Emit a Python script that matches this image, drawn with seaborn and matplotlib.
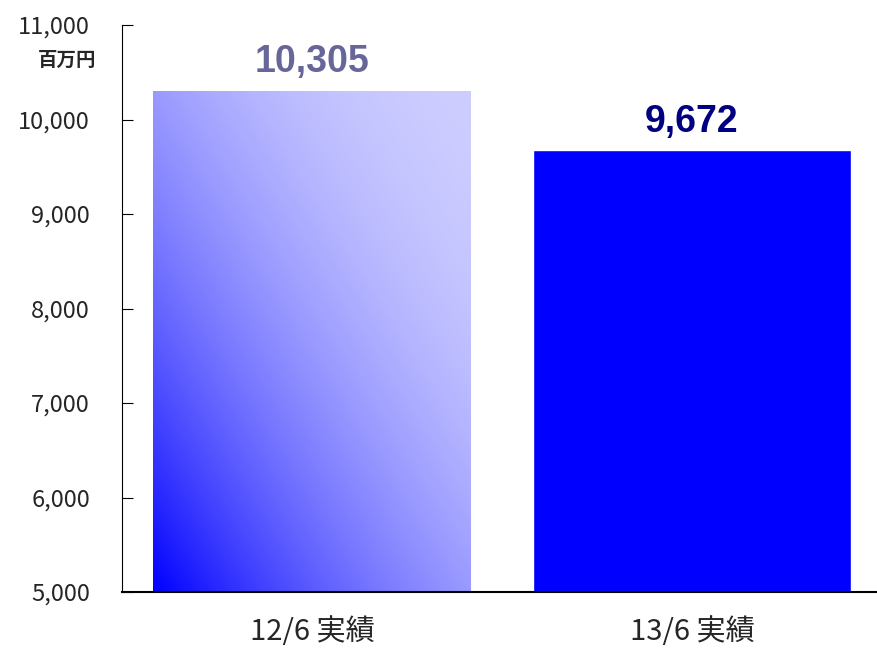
import numpy as np
import pandas as pd
import matplotlib
matplotlib.use('Agg')
import matplotlib.pyplot as plt
import seaborn as sns
from matplotlib.colors import LinearSegmentedColormap

categories = ['12/6 実績', '13/6 実績']
values = [10305, 9672]
value_labels = ['10,305', '9,672']
label_colors = ['#666699', '#000080']

sns.set_style('white')
plt.rcParams['font.family'] = ['Noto Sans CJK JP', 'DejaVu Sans']

df = pd.DataFrame({'period': categories, 'value': values})

fig = plt.figure(figsize=(8.77, 6.51), dpi=100)
ax = fig.add_axes([122 / 877, 1 - 592 / 651, 760 / 877, (592 - 25) / 651])

sns.barplot(data=df, x='period', y='value', color='#0000FF', width=0.836,
            saturation=1, ax=ax)
ax.set_ylim(5000, 11000)
ax.set_xlim(-0.5, 1.5)

# gradient fill for the first bar (bottom-left blue -> top-right pale)
cmap = LinearSegmentedColormap.from_list('grad', ['#0000FF', '#CCCCFF'])
bar = ax.patches[0]
bar.set_facecolor('none')
x0, w = bar.get_x(), bar.get_width()
yy, xx = np.mgrid[0:1:300j, 0:1:300j]
g = xx * 0.5 + yy * 0.5
grad = 1 - (1 - g) ** 2
img = ax.imshow(grad, cmap=cmap, origin='lower', aspect='auto',
                extent=[x0, x0 + w, 5000, values[0]], zorder=1)
img.set_clip_path(bar)

for i, (v, lab, c) in enumerate(zip(values, value_labels, label_colors)):
    ax.text(i, v + 110, lab, ha='center', va='bottom', fontsize=27,
            fontweight='bold', color=c, family=['Liberation Sans', 'DejaVu Sans'])

ax.set_yticks(range(5000, 11001, 1000))
ax.set_yticklabels([f'{t:,}' for t in range(5000, 11001, 1000)], fontsize=17)
ax.set_xticks([0.5], minor=False)
ax.set_xticklabels([''])
ax.set_xticks([0, 1], minor=True)
ax.set_xticklabels(categories, minor=True, fontsize=21)
ax.tick_params(axis='x', which='minor', length=0, pad=18)
ax.tick_params(axis='x', which='major', direction='in', length=8, color='black')
ax.tick_params(axis='y', direction='in', length=8, left=True, color='black', pad=23)
ax.set_xlabel('')
ax.set_ylabel('')

sns.despine(ax=ax, top=True, right=True)
ax.spines['left'].set_color('black')
ax.spines['bottom'].set_color('black')
ax.spines['bottom'].set_linewidth(1.5)

fig.text(96 / 877, 1 - 60 / 651, '百万円', ha='right', va='center',
         fontsize=14, fontweight='bold')

fig.savefig('out.png', dpi=100)
